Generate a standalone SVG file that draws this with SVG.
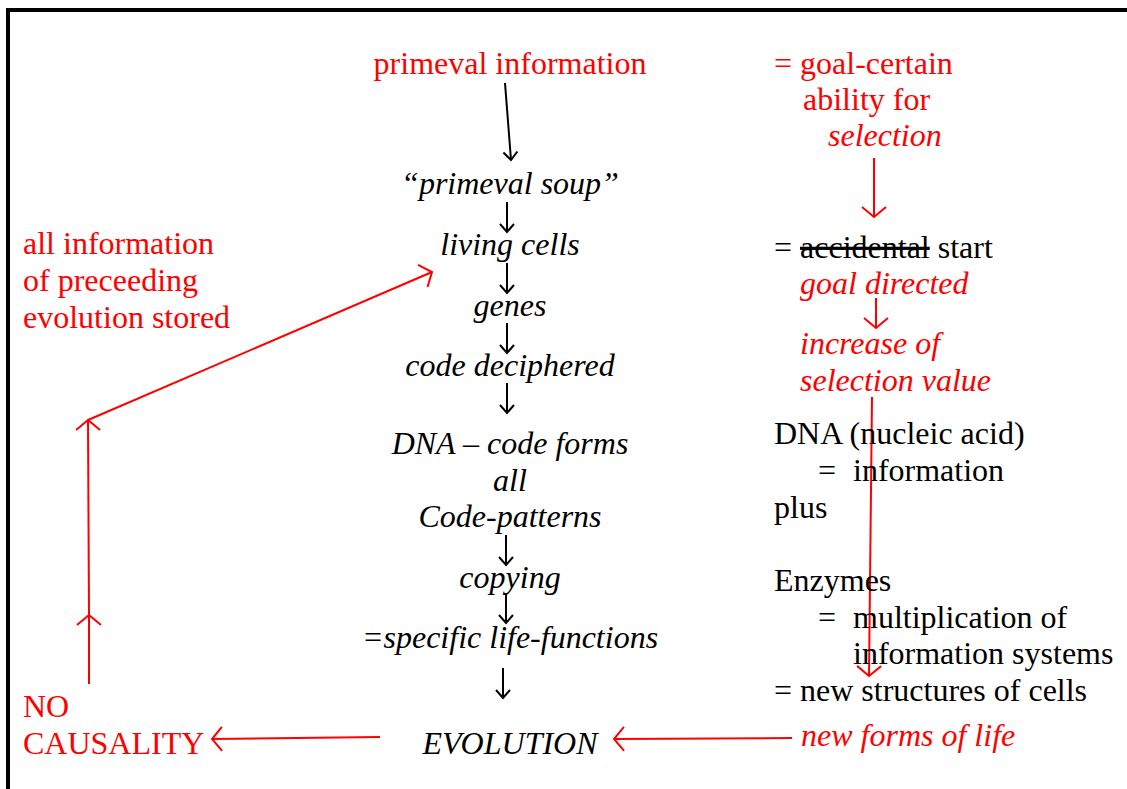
<svg xmlns="http://www.w3.org/2000/svg" width="1127" height="789" viewBox="0 0 1127 789">
<style>
.t text{font-size:32px;fill:#000}
.t .r{fill:#ff0000}
.t .i{font-style:italic}
.t .c{text-anchor:middle}
.bk{stroke:#000;stroke-width:2;fill:none}
.rd{stroke:#ff0000;stroke-width:2;fill:none}
</style>
<defs>
<marker id="ab" markerUnits="userSpaceOnUse" viewBox="-12 -10 14 20" refX="0" refY="0" markerWidth="14" markerHeight="20" orient="auto" overflow="visible">
<path d="M-8,-7 L0,0 L-8,7" fill="none" stroke="#000" stroke-width="2"/>
</marker>
<marker id="ar" markerUnits="userSpaceOnUse" viewBox="-14 -14 16 28" refX="0" refY="0" markerWidth="16" markerHeight="28" orient="auto" overflow="visible">
<path d="M-10,-12 L0,0 L-10,12" fill="none" stroke="#ff0000" stroke-width="2"/>
</marker>
</defs>
<g id="frame"><path d="M8,789 V10 H1127" fill="none" stroke="#000" stroke-width="4"/></g>
<g id="connectors">
<path class="bk" d="M505,83 L511,160" marker-end="url(#ab)"/>
<path class="bk" d="M507,202 V232" marker-end="url(#ab)"/>
<path class="bk" d="M507,263 V293" marker-end="url(#ab)"/>
<path class="bk" d="M507,323 V353" marker-end="url(#ab)"/>
<path class="bk" d="M507,383 V413" marker-end="url(#ab)"/>
<path class="bk" d="M506,535 V565" marker-end="url(#ab)"/>
<path class="bk" d="M506,593 V623" marker-end="url(#ab)"/>
<path class="bk" d="M503,668 V698" marker-end="url(#ab)"/>
<path class="rd" d="M874,158 V217" marker-end="url(#ar)"/>
<path class="rd" d="M876,298 V328" marker-end="url(#ar)"/>
<path class="rd" d="M872,397 L869,676" marker-end="url(#ar)"/>
<path class="rd" d="M792,738 L614,739" marker-end="url(#ar)"/>
<path class="rd" d="M380,737 L212,739" marker-end="url(#ar)"/>
<path class="rd" d="M89,684 V615" marker-end="url(#ar)"/>
<path class="rd" d="M89,615 L88,420" marker-end="url(#ar)"/>
<path class="rd" d="M88,420 L432,272" marker-end="url(#ar)"/>
</g>
<g class="t" font-family="'Liberation Serif', 'Times New Roman', Tinos, serif">
<g id="n-primeval-information"><text class="r c" x="510" y="74">primeval information</text></g>
<g id="n-primeval-soup"><text class="i c" x="510" y="194">“primeval soup”</text></g>
<g id="n-living-cells"><text class="i c" x="510" y="255">living cells</text></g>
<g id="n-genes"><text class="i c" x="510" y="316">genes</text></g>
<g id="n-code-deciphered"><text class="i c" x="510" y="376">code deciphered</text></g>
<g id="n-dna-code"><text class="i c" x="510" y="454">DNA – code forms</text><text class="i c" x="510" y="491">all</text><text class="i c" x="510" y="527">Code-patterns</text></g>
<g id="n-copying"><text class="i c" x="510" y="588">copying</text></g>
<g id="n-specific"><text class="i c" x="510" y="648">=specific life-functions</text></g>
<g id="n-evolution"><text class="i c" x="510" y="754">EVOLUTION</text></g>
<g id="n-goal-certain"><text class="r" x="774" y="74">= goal-certain</text><text class="r" x="803" y="110">ability for</text><text class="r i" x="828" y="146">selection</text></g>
<g id="n-start"><text x="774" y="258">= <tspan text-decoration="line-through">accidental</tspan> start</text></g>
<g id="n-goal-directed"><text class="r i" x="800" y="294">goal directed</text></g>
<g id="n-increase"><text class="r i" x="800" y="354">increase of</text><text class="r i" x="800" y="391">selection value</text></g>
<g id="n-dna"><text x="774" y="444">DNA (nucleic acid)</text><text x="818" y="481">=</text><text x="853" y="481">information</text><text x="774" y="518">plus</text></g>
<g id="n-enzymes"><text x="774" y="591">Enzymes</text><text x="818" y="628">=</text><text x="853" y="628">multiplication of</text><text x="853" y="664">information systems</text></g>
<g id="n-new-structures"><text x="774" y="701">= new structures of cells</text></g>
<g id="n-new-forms"><text class="r i" x="801" y="746">new forms of life</text></g>
<g id="n-all-information"><text class="r" x="23" y="254">all information</text><text class="r" x="23" y="291">of preceeding</text><text class="r" x="23" y="328">evolution stored</text></g>
<g id="n-no-causality"><text class="r" x="23" y="717">NO</text><text class="r" x="23" y="754">CAUSALITY</text></g>
</g>
</svg>
